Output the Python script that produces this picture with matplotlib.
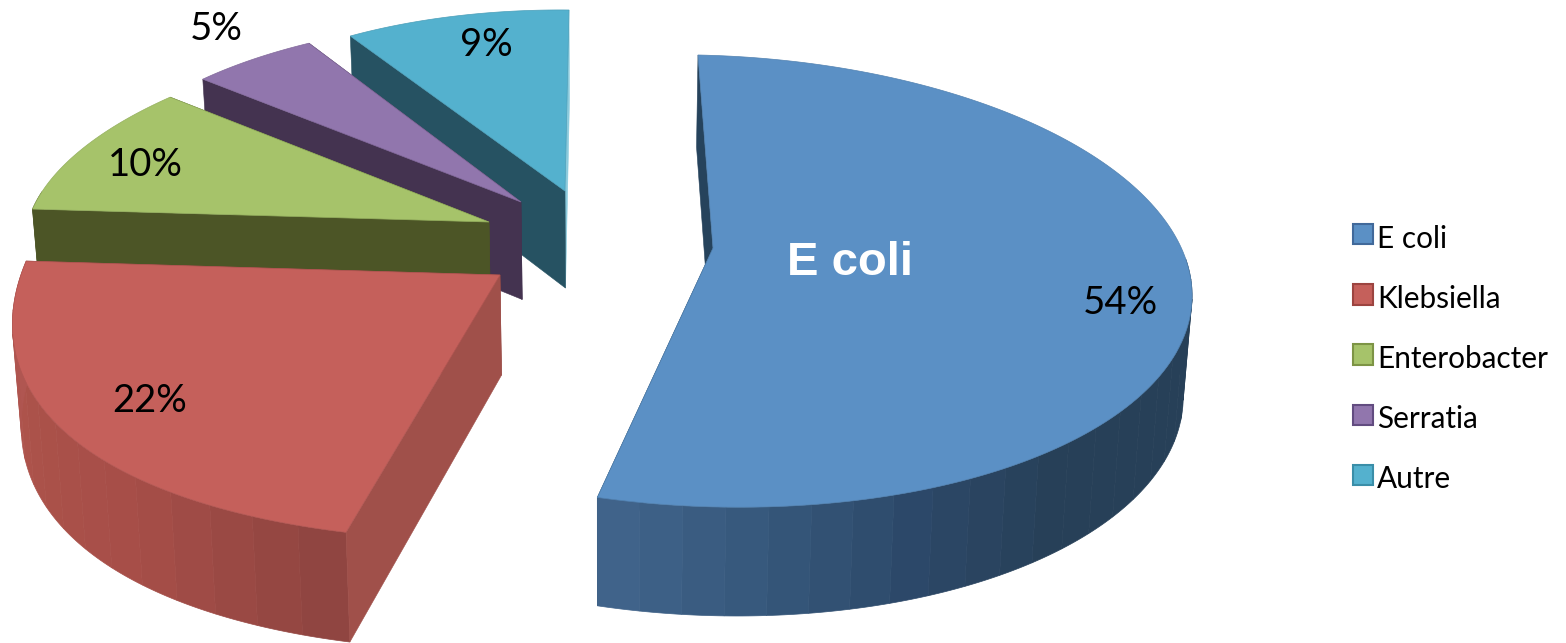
import numpy as np
import matplotlib
matplotlib.use("Agg")
import matplotlib.pyplot as plt
from matplotlib.legend_handler import HandlerPatch
from matplotlib.patches import Patch, Polygon, Rectangle
from matplotlib.colors import to_rgb

# Chart data
categories = ["E coli", "Klebsiella", "Enterobacter", "Serratia", "Autre"]
percentages = [54, 22, 10, 5, 9]
callout_name = "E coli"

# Slice colours
top_colors = ["#5B90C5", "#C5605B", "#A6C36A", "#9176AD", "#54B1CE"]
legend_edges = ["#41699A", "#9C4440", "#7D9445", "#624C80", "#3A8EA8"]
inner_colors = ["#26435C", "#A0504A", "#4C5526", "#443350", "#265262"]
back_colors = ["#26435C", "#8F4743", "#4C5526", "#443350", "#8CCBDD"]
dark_blue = (39, 64, 88)
rim_stops = [
    [dark_blue] * 8 + [(44, 72, 104), (54, 88, 124), (66, 101, 140)],
    [(142, 68, 64), (166, 78, 72), (172, 82, 74), (178, 88, 84)],
    [(76, 85, 38), (76, 85, 38)],
    [(68, 51, 80), (68, 51, 80)],
    [(38, 82, 98), (38, 82, 98)],
]

# Per-slice placement of the unit disc on the page:
# apex x, apex y, disc centre x, disc centre y, x radius, x shear, y tilt, y radius, x perspective
frames = [
    (713, 248, 708, 281, 484, 10, 10, 226, 0.0),
    (500, 275, 500, 275, 480, -12.6, -2.7, 265, 0.15),
    (489, 222, 489, 222, 461, -57, 0.7, 195, 0.0),
    (521, 202, 521, 202, 432, -23, 8, 183, 0.0),
    (565, 191, 565, 191, 407, -4, 4, 181, 0.0),
]

# Label anchors on the page
pct_positions = [(1120, 303), (150, 400), (145, 165), (216, 28), (486, 45)]
callout_position = (850, 263)


def project(theta, frame):
    _, _, cx, cy, rx, shear, tilt, ry, px = frame
    X, Y = np.sin(theta), -np.cos(theta)
    return cx + (rx * X + shear * Y) / (1 - px * Y), cy + tilt * X + ry * Y


def extrude(x, y):
    # Lower face of the pie: deeper toward the viewer, converging toward the middle.
    return x + (600 - x) * 0.015, y + 90 + 0.037 * y


def rim_color(stops, f):
    stops = np.asarray(stops, float) / 255
    pos = f * (len(stops) - 1)
    i = min(int(pos), len(stops) - 2)
    return stops[i] + (stops[i + 1] - stops[i]) * (pos - i)


def raised_swatch(legend, orig_handle, xdescent, ydescent, width, height, fontsize):
    # Legend squares sit slightly above the text's centre line.
    return Rectangle((-xdescent, -ydescent + 2.2), width, height)


fig = plt.figure(figsize=(15.66, 6.43), dpi=100)
ax = fig.add_axes([0, 0, 1, 1])
ax.set_xlim(0, 1566)
ax.set_ylim(643, 0)
ax.axis("off")

edges = np.radians(np.cumsum([0] + percentages) * 3.6)

# Order back to front so nearer slices cover the faces of farther ones
z = 1
for i in range(len(percentages) - 1, -1, -1):
    t0, t1 = edges[i], edges[i + 1]
    frame = frames[i]
    apex = np.array(frame[:2], float)
    ex, ey = extrude(*apex)

    thetas = np.linspace(t0, t1, 200)
    rx_, ry_ = project(thetas, frame)

    # trailing radial face
    bx, by = extrude(rx_[-1], ry_[-1])
    ax.add_patch(Polygon([apex, (rx_[-1], ry_[-1]), (bx, by), (ex, ey)],
                         fc=back_colors[i], ec=back_colors[i], lw=0.4, zorder=z))
    z += 1

    # curved outer wall in narrow facets, only where it faces the viewer
    n_bands = max(2, int(np.degrees(t1 - t0) / 5))
    band_edges = np.linspace(t0, t1, n_bands + 1)
    for b in range(n_bands):
        tt = np.linspace(band_edges[b], band_edges[b + 1], 8)
        if -np.cos(tt).mean() < -0.15:
            continue
        px_, py_ = project(tt, frame)
        qx, qy = extrude(px_, py_)
        pts = np.column_stack([np.r_[px_, qx[::-1]], np.r_[py_, qy[::-1]]])
        c = rim_color(rim_stops[i], (b + 0.5) / n_bands)
        ax.add_patch(Polygon(pts, fc=c, ec=c, lw=0.5, zorder=z))
    z += 1

    # leading radial face
    fx, fy = extrude(rx_[0], ry_[0])
    ax.add_patch(Polygon([apex, (rx_[0], ry_[0]), (fx, fy), (ex, ey)],
                         fc=inner_colors[i], ec=inner_colors[i], lw=0.4, zorder=z))
    z += 1

    # top surface
    top = np.column_stack([np.r_[apex[0], rx_], np.r_[apex[1], ry_]])
    edge = tuple(0.9 * np.array(to_rgb(top_colors[i])))
    ax.add_patch(Polygon(top, closed=True, fc=top_colors[i], ec=edge, lw=0.5, zorder=z))
    z += 1

for (x, y), v in zip(pct_positions, percentages):
    ax.text(x, y + 0.5, f"{v}%", family="Lato", fontsize=27.5, color="black",
            ha="center", va="center", zorder=z)
ax.text(*callout_position, callout_name, family="Liberation Sans", fontweight="bold",
        fontsize=34, color="white", ha="center", va="center", zorder=z)

handles = [Patch(fc=c, ec=e, lw=1.5, label=n)
           for c, e, n in zip(top_colors, legend_edges, categories)]
ax.legend(handles=handles, loc="center left", bbox_to_anchor=(1353 / 1566, 1 - 359 / 643),
          bbox_transform=fig.transFigure, frameon=False,
          prop={"family": "Lato", "size": 21.4},
          handlelength=0.67, handleheight=0.67, handletextpad=0.13,
          labelspacing=1.08, borderpad=0, borderaxespad=0, labelcolor="black",
          handler_map={Patch: HandlerPatch(patch_func=raised_swatch)})

fig.savefig("out.png", dpi=100, facecolor="white")
